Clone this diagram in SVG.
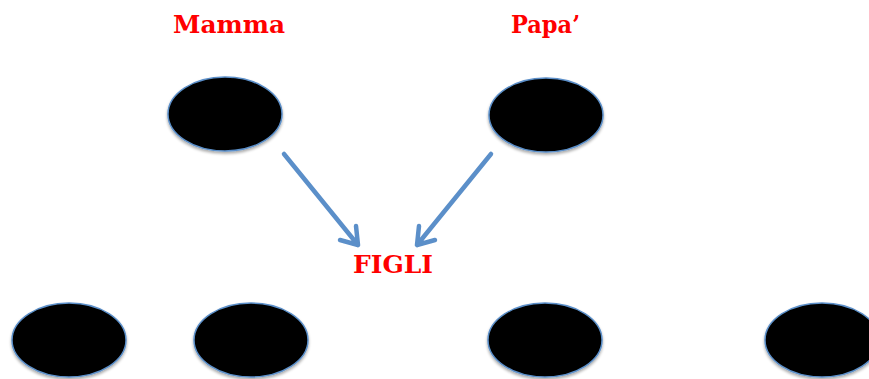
<svg xmlns="http://www.w3.org/2000/svg" width="869" height="379" viewBox="0 0 869 379">
<style>
.node ellipse{fill:#000;stroke:#5b8fc9;stroke-width:1.5;filter:url(#sh)}
.lbl{font-family:"DejaVu Serif","Liberation Serif",serif;font-weight:bold;font-size:25px;fill:#ff0000}
.conn{stroke:#5b8fc9;stroke-width:4.5;fill:none;stroke-linecap:round;stroke-linejoin:round}
</style>
<defs>
<filter id="sh" x="-20%" y="-20%" width="140%" height="150%">
<feGaussianBlur in="SourceAlpha" stdDeviation="1.5"/>
<feOffset dx="0" dy="2" result="b"/>
<feComponentTransfer><feFuncA type="linear" slope="0.35"/></feComponentTransfer>
<feMerge><feMergeNode/><feMergeNode in="SourceGraphic"/></feMerge>
</filter>
</defs>
<rect width="869" height="379" fill="#fff"/>
<text class="lbl" x="173" y="33" textLength="112" lengthAdjust="spacingAndGlyphs">Mamma</text>
<text class="lbl" x="511" y="33" textLength="69" lengthAdjust="spacingAndGlyphs">Papa’</text>
<text class="lbl" x="353" y="273" textLength="80" lengthAdjust="spacingAndGlyphs">FIGLI</text>
<g id="mamma" class="node"><ellipse cx="225" cy="114" rx="57" ry="37"/></g>
<g id="papa" class="node"><ellipse cx="546" cy="115" rx="57" ry="37"/></g>
<g id="figlio1" class="node"><ellipse cx="69" cy="340" rx="57" ry="37"/></g>
<g id="figlio2" class="node"><ellipse cx="251" cy="340" rx="57" ry="37"/></g>
<g id="figlio3" class="node"><ellipse cx="545" cy="340" rx="57" ry="37"/></g>
<g id="figlio4" class="node"><ellipse cx="822" cy="340" rx="57" ry="37"/></g>
<g id="connectors">
<path class="conn" d="M284,154 L358,245 M356,226 L358,245 L340,240"/>
<path class="conn" d="M491,154 L417,245 M435,240 L417,245 L419,226"/>
</g>
</svg>
